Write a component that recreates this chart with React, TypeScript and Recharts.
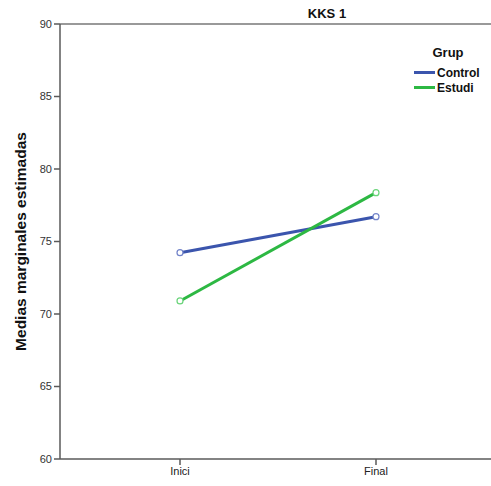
import React from 'react';
import { LineChart, Line, XAxis, YAxis, ReferenceLine, Label } from 'recharts';

const moments = ['Inici', 'Final'];
const controlMeans = [74.23, 76.71];
const estudiMeans = [70.9, 78.37];
const yTicks = [60, 65, 70, 75, 80, 85, 90];

const data = moments.map((m, i) => ({ moment: m, Control: controlMeans[i], Estudi: estudiMeans[i] }));

const FONT = '"Liberation Sans", Arial, sans-serif';
const BLUE = '#3b55ad';
const GREEN = '#2db843';
const AXIS = '#5a5a5a';

const series = [
  { key: 'Control', color: BLUE, dotColor: '#7283c9' },
  { key: 'Estudi', color: GREEN, dotColor: '#6ad47a' },
];

const YLabel = (props: any) => {
  const { viewBox } = props;
  const cy = viewBox.y + viewBox.height / 2;
  return (
    <text
      x={26}
      y={cy}
      transform={`rotate(-90, 26, ${cy})`}
      textAnchor="middle"
      style={{ fontFamily: FONT, fontSize: 15.5, fontWeight: 'bold', fill: '#111' }}
    >
      Medias marginales estimadas
    </text>
  );
};

export default function App() {
  return (
    <div style={{ position: 'absolute', left: 0, top: 0, background: '#fff' }}>
      <LineChart width={491} height={486} data={data} margin={{ top: 24, right: 0, left: 0, bottom: 0 }}>
        <text x={327} y={18} textAnchor="middle" style={{ fontFamily: FONT, fontSize: 13, fontWeight: 'bold', fill: '#111' }}>
          KKS 1
        </text>
        <XAxis
          dataKey="moment"
          height={27}
          padding={{ left: 120, right: 115 }}
          stroke={AXIS}
          strokeWidth={1.5}
          tickSize={6}
          tick={{ fontFamily: FONT, fontSize: 11, fill: '#222' }}
        />
        <YAxis
          width={60}
          domain={[60, 90]}
          ticks={yTicks}
          stroke={AXIS}
          strokeWidth={1.5}
          tickSize={6}
          tickMargin={2}
          tick={{ fontFamily: FONT, fontSize: 11, fill: '#333' }}
        >
          <Label content={<YLabel />} />
        </YAxis>
        <ReferenceLine y={90} stroke="#777" strokeWidth={1.5} />
        {series.map((s) => (
          <Line
            key={s.key}
            type="linear"
            dataKey={s.key}
            stroke={s.color}
            strokeWidth={3}
            dot={{ r: 3, stroke: s.dotColor, strokeWidth: 1.2, fill: '#fff' }}
            isAnimationActive={false}
          />
        ))}
      </LineChart>
      <div style={{ position: 'absolute', left: 414, top: 45, fontFamily: FONT, color: '#111' }}>
        <div style={{ fontWeight: 'bold', fontSize: 13, textAlign: 'center', width: 68, marginBottom: 5 }}>Grup</div>
        {series.map((s) => (
          <div key={s.key} style={{ display: 'flex', alignItems: 'center', height: 15, fontSize: 12, fontWeight: 'bold' }}>
            <span style={{ display: 'inline-block', width: 21, height: 3, background: s.color, marginRight: 2 }} />
            {s.key}
          </div>
        ))}
      </div>
    </div>
  );
}
